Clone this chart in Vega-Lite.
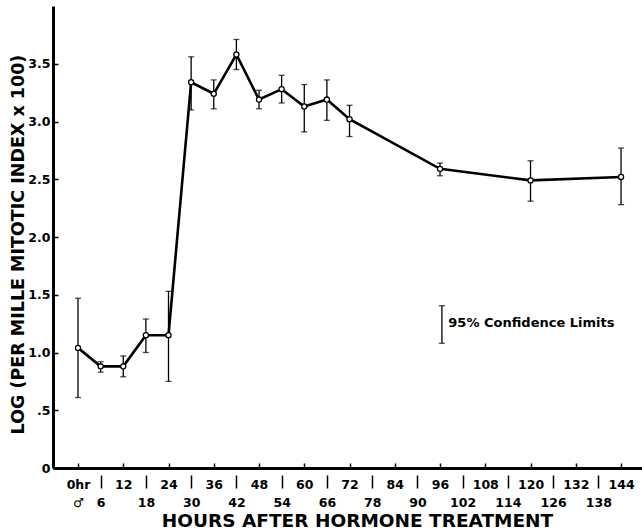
{
  "$schema": "https://vega.github.io/schema/vega-lite/v6.json",
  "width": 589,
  "height": 462,
  "autosize": {"type": "none"},
  "padding": {"left": 53, "top": 6, "right": 0, "bottom": 64},
  "background": "white",
  "config": {
    "view": {"stroke": null},
    "font": "DejaVu Sans",
    "axis": {"grid": false, "domainColor": "black", "tickColor": "black", "labelColor": "black", "titleColor": "black"}
  },
  "datasets": {
    "obs": [
      {"hr": 0, "mean": 1.04, "lo": 0.61, "hi": 1.47},
      {"hr": 6, "mean": 0.88, "lo": 0.83, "hi": 0.92},
      {"hr": 12, "mean": 0.88, "lo": 0.79, "hi": 0.97},
      {"hr": 18, "mean": 1.15, "lo": 1.0, "hi": 1.29},
      {"hr": 24, "mean": 1.15, "lo": 0.75, "hi": 1.53},
      {"hr": 30, "mean": 3.34, "lo": 3.1, "hi": 3.56},
      {"hr": 36, "mean": 3.24, "lo": 3.11, "hi": 3.36},
      {"hr": 42, "mean": 3.58, "lo": 3.45, "hi": 3.71},
      {"hr": 48, "mean": 3.19, "lo": 3.11, "hi": 3.27},
      {"hr": 54, "mean": 3.28, "lo": 3.16, "hi": 3.4},
      {"hr": 60, "mean": 3.13, "lo": 2.91, "hi": 3.32},
      {"hr": 66, "mean": 3.19, "lo": 3.01, "hi": 3.36},
      {"hr": 72, "mean": 3.02, "lo": 2.87, "hi": 3.14},
      {"hr": 96, "mean": 2.59, "lo": 2.53, "hi": 2.64},
      {"hr": 120, "mean": 2.49, "lo": 2.31, "hi": 2.66},
      {"hr": 144, "mean": 2.52, "lo": 2.28, "hi": 2.77}
    ],
    "legend": [
      {"x": 96.5, "lo": 1.08, "hi": 1.405, "tx": 98.2, "ty": 1.255, "label": "95% Confidence Limits"}
    ]
  },
  "resolve": {"scale": {"x": "independent"}, "axis": {"x": "independent"}},
  "layer": [
    {
      "layer": [
        {
          "data": {"name": "obs"},
          "mark": {"type": "errorbar", "color": "black", "thickness": 1.3, "ticks": {"size": 6, "thickness": 1.3, "color": "black"}},
          "encoding": {
            "x": {
              "field": "hr", "type": "quantitative",
              "scale": {"domain": [-6.63, 149.56], "nice": false, "zero": false},
              "axis": {
                "orient": "bottom",
                "values": [0, 6, 12, 18, 24, 30, 36, 42, 48, 54, 60, 66, 72, 78, 84, 90, 96, 102, 108, 114, 120, 126, 132, 138, 144],
                "title": null,
                "domain": true,
                "domainWidth": 3,
                "ticks": true,
                "tickSize": -5,
                "tickWidth": 1.5,
                "labelExpr": "datum.value % 12 == 0 ? (datum.value == 0 ? '0hr' : datum.label) : ''",
                "labelPadding": 15,
                "labelFontSize": 12.5,
                "labelFontWeight": "bold",
                "labelBaseline": "top",
                "labelOverlap": false,
                "labelFlush": false
              }
            },
            "y": {
              "field": "lo", "type": "quantitative",
              "title": "LOG (PER MILLE MITOTIC INDEX x 100)",
              "scale": {"domain": [0, 4], "nice": false, "zero": false},
              "axis": {
                "values": [0, 0.5, 1, 1.5, 2, 2.5, 3, 3.5],
                "domainWidth": 3,
                "tickSize": -5,
                "tickWidth": 1.5,
                "labelPadding": 8,
                "labelExpr": "datum.value == 0 ? '0' : (datum.value == 0.5 ? '.5' : format(datum.value, '.1f'))",
                "labelFontSize": 12.5,
                "labelFontWeight": "bold",
                "labelOverlap": false,
                "labelFlush": false,
                "titleFontSize": 17.5,
                "titleFontWeight": "bold",
                "titlePadding": 0,
                "titleY": 238
              }
            },
            "y2": {"field": "hi"}
          }
        },
        {
          "data": {"name": "obs"},
          "mark": {"type": "line", "color": "black", "strokeWidth": 2.6},
          "encoding": {
            "x": {"field": "hr", "type": "quantitative"},
            "y": {"field": "mean", "type": "quantitative", "title": "LOG (PER MILLE MITOTIC INDEX x 100)"}
          }
        },
        {
          "data": {"name": "obs"},
          "mark": {"type": "point", "shape": "circle", "filled": true, "fill": "white", "stroke": "black", "strokeWidth": 1.3, "size": 26, "opacity": 1},
          "encoding": {
            "x": {"field": "hr", "type": "quantitative"},
            "y": {"field": "mean", "type": "quantitative", "title": "LOG (PER MILLE MITOTIC INDEX x 100)"}
          }
        },
        {
          "data": {"name": "legend"},
          "mark": {"type": "errorbar", "color": "black", "thickness": 1.3, "ticks": {"size": 6, "thickness": 1.3, "color": "black"}},
          "encoding": {
            "x": {"field": "x", "type": "quantitative"},
            "y": {"field": "lo", "type": "quantitative", "title": "LOG (PER MILLE MITOTIC INDEX x 100)"},
            "y2": {"field": "hi"}
          }
        }
      ]
    },
    {
      "data": {"name": "legend"},
      "mark": {"type": "text", "align": "left", "baseline": "middle", "fontSize": 13, "fontWeight": "bold", "color": "black"},
      "encoding": {
        "x": {
          "field": "tx", "type": "quantitative",
          "scale": {"domain": [-6.63, 149.56], "nice": false, "zero": false},
          "axis": {
            "orient": "bottom",
            "values": [0, 6, 18, 30, 42, 54, 66, 78, 90, 102, 114, 126, 138],
            "domain": false,
            "tickSize": 20,
            "tickWidth": 1.5,
            "tickDash": [0, 7, 13, 10],
            "tickOpacity": {"condition": {"test": "datum.value == 0", "value": 0}, "value": 1},
            "labelExpr": "datum.value == 0 ? '♂' : datum.label",
            "labelPadding": 8,
            "labelFontSize": 12.5,
            "labelFontWeight": "bold",
            "labelBaseline": "top",
            "labelOverlap": false,
            "labelFlush": false,
            "title": "HOURS AFTER HORMONE TREATMENT",
            "titleFontSize": 18.5,
            "titleFontWeight": "bold",
            "titlePadding": 3,
            "titleX": 304
          }
        },
        "y": {"field": "ty", "type": "quantitative", "title": "LOG (PER MILLE MITOTIC INDEX x 100)"},
        "text": {"field": "label"}
      }
    }
  ]
}
